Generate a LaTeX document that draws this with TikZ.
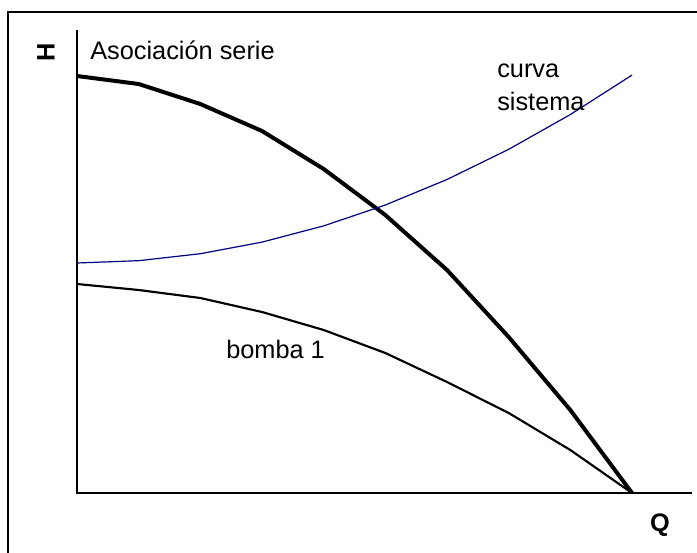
\documentclass[tikz,border=0pt]{standalone}
\usepackage{fontspec}
\setmainfont{Liberation Sans}
\usetikzlibrary{positioning}
\definecolor{sysblue}{RGB}{0,0,128}

\begin{document}
\begin{tikzpicture}[x=0.75pt, y=-0.75pt,
    lbl/.style={inner sep=0pt, font=\fontsize{19}{23}\selectfont},
    axis/.style={line width=1.1pt},
    serie/.style={line width=3pt, line join=round},
    bomba/.style={line width=1.6pt, line join=round},
    sistema/.style={line width=0.9pt, sysblue}]
    \useasboundingbox (0,0) rectangle (697,553);
    % frame
    \draw[axis] (697,12) -- (8,12) -- (8,553);
    % axes
    \coordinate (O) at (77,493);
    \coordinate (Htop) at (77,30);
    \coordinate (Qend) at (692,493);
    \draw[axis] (Htop) -- (O) -- (Qend);
    \node (H) [lbl, rotate=90, font=\fontsize{19}{23}\selectfont\bfseries] at (46,52) {H};
    \node (Q) [lbl, anchor=base, font=\fontsize{19}{23}\selectfont\bfseries] at (660,531) {Q};
    % curves
    \draw[serie] plot coordinates {(77,76) (138.7,84) (200.3,104) (262,131) (323.7,169)
        (385.3,215) (447,270) (508.7,337) (570.3,410) (632,493)};
    \draw[bomba] plot coordinates {(77,284) (138.7,290) (200.3,298) (262,312) (323.7,330)
        (385.3,353) (447,382) (508.7,413) (570.3,450) (632,493)};
    \draw[sistema] plot[domain=0:9, samples=10] ({77+61.67*\x}, {263-2.32*\x*\x});
    % labels
    \node (Titulo) [lbl, anchor=base west] at (90,59) {Asociación serie};
    \node (Curva) [lbl, anchor=base west] at (497,77) {curva};
    \node (Sistema) [lbl, anchor=base west] at (497,110) {sistema};
    \node (Bomba) [lbl, anchor=base west] at (226,358) {bomba 1};
\end{tikzpicture}
\end{document}
